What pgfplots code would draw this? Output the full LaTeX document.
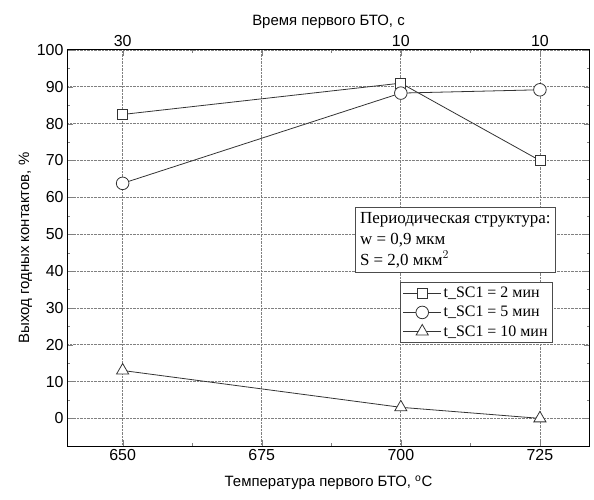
\documentclass[border=0pt]{standalone}
\usepackage{pgfplots}
\pgfplotsset{compat=1.18}
\usepackage{fontspec}
\setmainfont{Liberation Sans}
\newfontfamily\serif{Liberation Serif}
\begin{document}
\begin{tikzpicture}[x=1bp,y=1bp]
\pgfplotsset{
  common/.style={
    scale only axis, width=523bp, height=396bp,
    xmin=640, xmax=734, ymin=-7.5, ymax=100,
    /pgf/number format/assume math mode=true,
    tick label style={font=\fontsize{16}{18}\selectfont},
    label style={font=\fontsize{15}{17}\selectfont},
    tick align=inside,
    major tick length=6bp, minor tick length=3bp,
    axis line style={line width=1pt},
  }
}
\begin{axis}[common,
  at={(67bp,54bp)}, anchor=south west,
  xtick={650,675,700,725}, minor x tick num=1,
  ytick={0,10,...,100}, minor y tick num=1,
  xticklabel pos=lower,
  grid=major, grid style={densely dotted, gray, line width=0.7pt},
  xlabel={Температура первого БТО, \textsuperscript{o}C},
  ylabel={Выход годных контактов, \%},
  xlabel style={yshift=-8bp},
  ylabel style={yshift=-2bp},
  legend style={font=\serif\fontsize{16}{18}\selectfont, at={(0.929,0.414)}, anchor=north east, draw=black!70, row sep=3pt, inner sep=3pt, line width=0.7pt},
  legend cell align=left,
  legend image code/.code={\draw[mark repeat=2,mark phase=2] plot coordinates {(0bp,0bp) (19bp,0bp) (38bp,0bp)};},
  every axis plot/.append style={black!80, line width=0.8pt, mark options={fill=white, line width=0.8pt}},
]
\addplot[mark=square*, mark size=5bp] coordinates {(650,82.5) (700,91) (725,70)};
\addlegendentry{t\_SC1 = 2 мин}
\addplot[mark=*, mark size=6.3bp] coordinates {(650,63.8) (700,88.3) (725,89.2)};
\addlegendentry{t\_SC1 = 5 мин}
\addplot[mark=triangle*, mark size=7bp] coordinates {(650,13) (700,3) (725,0)};
\addlegendentry{t\_SC1 = 10 мин}
\node[draw=black!70, fill=white, anchor=north east, align=left, font=\serif\fontsize{17}{21}\selectfont, inner sep=5pt, line width=0.7pt] at (rel axis cs:0.935,0.604) {Периодическая структура:\\w = 0,9 мкм\\S = 2,0 мкм$^2$};
\end{axis}
\begin{axis}[common,
  at={(67bp,54bp)}, anchor=south west,
  axis x line*=top, axis y line=none,
  xtick={650,700,725}, xticklabels={30,10,10},
  major tick length=0pt,
  xlabel={Время первого БТО, с},
]
\addplot[draw=none] coordinates {(650,0)};
\end{axis}
\path (0,0) rectangle (594bp,500bp);
\end{tikzpicture}
\end{document}
